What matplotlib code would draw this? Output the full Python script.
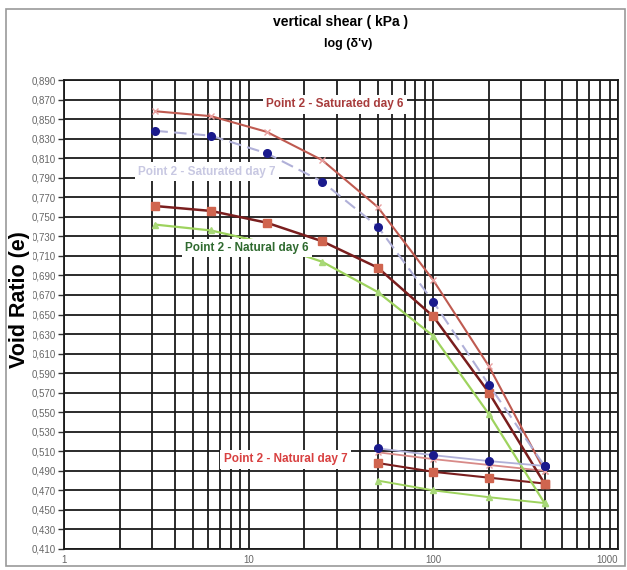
import numpy as np
import matplotlib
matplotlib.use('Agg')
import matplotlib.pyplot as plt
from matplotlib.patches import Rectangle
from matplotlib.ticker import FixedLocator, LogLocator, NullFormatter

plt.rcParams['font.family'] = ['Liberation Sans', 'DejaVu Sans']

# loading / unloading stress steps (kPa)
x_load = [3.125, 6.25, 12.5, 25, 50, 100, 200, 400]
x_unload = [400, 200, 100, 50]

# void ratio
sat6_load = [0.858, 0.853, 0.837, 0.808, 0.760, 0.685, 0.597, 0.490]
sat6_unload = [0.490, 0.496, 0.502, 0.509]
sat7_load = [0.838, 0.833, 0.815, 0.786, 0.740, 0.663, 0.578, 0.495]
sat7_unload = [0.495, 0.500, 0.506, 0.513]
nat7_load = [0.761, 0.756, 0.744, 0.725, 0.698, 0.648, 0.570, 0.477]
nat7_unload = [0.477, 0.483, 0.489, 0.498]
nat6_load = [0.742, 0.736, 0.723, 0.704, 0.673, 0.628, 0.548, 0.457]
nat6_unload = [0.457, 0.463, 0.470, 0.480]

y_ticks = [round(0.410 + 0.02 * i, 3) for i in range(25)]
y_ticklabels = [('%.3f' % v).replace('.', ',') for v in y_ticks]
x_ticks = [1, 10, 100, 1000]
x_ticklabels = ['1', '10', '100', '1000']

fig = plt.figure(figsize=(6.27, 5.70), dpi=100)
ax = fig.add_axes([64 / 627, 1 - 549 / 570, (618 - 64) / 627, (549 - 80) / 570])

ax.set_xscale('log')
ax.set_xlim(1, 1000)
ax.set_ylim(0.410, 0.890)

# grid
ax.xaxis.set_major_locator(FixedLocator(x_ticks))
ax.set_xticklabels(x_ticklabels)
ax.xaxis.set_minor_locator(LogLocator(base=10, subs=np.arange(2, 10)))
ax.xaxis.set_minor_formatter(NullFormatter())
ax.set_yticks(y_ticks)
ax.set_yticklabels(y_ticklabels)
ax.grid(True, which='both', axis='x', color='#1a1a1a', lw=1.3)
ax.grid(True, which='major', axis='y', color='#1a1a1a', lw=1.3)
ax.tick_params(axis='x', which='both', length=0, labelsize=7, labelcolor='#666666', pad=4)
ax.tick_params(axis='y', length=4, width=1, color='#333333', labelsize=7, labelcolor='#666666', pad=2)
for sp in ax.spines.values():
    sp.set_color('#1a1a1a')
    sp.set_linewidth(1.3)
# last x label would run off the right edge
ax.get_xticklabels()[-1].set_horizontalalignment('right')

# Saturated day 6
ax.plot(x_load, sat6_load, color='#bf5a50', lw=1.5, marker='x', ms=4, mec='#e8a0a0', zorder=3)
ax.plot(x_unload, sat6_unload, color='#d88a88', lw=1.3, marker='x', ms=4, mec='#e8a0a0', zorder=3)
# Saturated day 7
ax.plot(x_load, sat7_load, color='#b0b0d8', lw=1.5, ls=(0, (6, 3)), marker='o', ms=5.5,
        mfc='#1a1a8c', mec='#1a1a8c', zorder=4)
ax.plot(x_unload, sat7_unload, color='#b0b0d8', lw=1.3, marker='o', ms=5.5,
        mfc='#1a1a8c', mec='#1a1a8c', zorder=4)
# Natural day 7
ax.plot(x_load, nat7_load, color='#7a1e1e', lw=1.8, marker='s', ms=5.5,
        mfc='#d0654f', mec='#d0654f', zorder=3)
ax.plot(x_unload, nat7_unload, color='#7a1e1e', lw=1.5, marker='s', ms=5.5,
        mfc='#d0654f', mec='#d0654f', zorder=3)
# Natural day 6
ax.plot(x_load, nat6_load, color='#9ed35e', lw=1.6, marker='^', ms=5,
        mfc='#a8d878', mec='#a8d878', zorder=3)
ax.plot(x_unload, nat6_unload, color='#9ed35e', lw=1.4, marker='^', ms=5,
        mfc='#a8d878', mec='#a8d878', zorder=3)

box = dict(facecolor='white', edgecolor='none', pad=2.5)
ax.text(29.4, 0.865, 'Point 2 - Saturated day 6', color='#a83c3c', fontsize=8.5,
        fontweight='bold', ha='center', va='center', bbox=box, zorder=5)
ax.text(5.96, 0.796, 'Point 2 - Saturated day 7', color='#c8c8e2', fontsize=8.5,
        fontweight='bold', ha='center', va='center', bbox=box, zorder=5)
ax.text(9.8, 0.718, 'Point 2 - Natural day 6', color='#2f6a2f', fontsize=8.5,
        fontweight='bold', ha='center', va='center', bbox=box, zorder=5)
ax.text(15.8, 0.502, 'Point 2 - Natural day 7', color='#d84040', fontsize=8.5,
        fontweight='bold', ha='center', va='center', bbox=box, zorder=5)

fig.text(341 / 627, 1 - 22 / 570, 'vertical shear ( kPa )', fontsize=10, fontweight='bold',
         ha='center', va='center')
fig.text(348 / 627, 1 - 44 / 570, "log (δ'v)", fontsize=9, fontweight='bold',
         ha='center', va='center')
fig.text(20 / 627, 1 - 300 / 570, 'Void Ratio (e)', fontsize=15.5, fontweight='bold',
         rotation=90, ha='center', va='center',
         bbox=dict(facecolor='white', edgecolor='none', pad=1.5))

fig.patches.append(Rectangle((6 / 627, 4 / 570), 619 / 627, 557 / 570, transform=fig.transFigure,
                             fill=False, edgecolor='#999999', lw=1.2))

fig.savefig('out.png', dpi=100)
